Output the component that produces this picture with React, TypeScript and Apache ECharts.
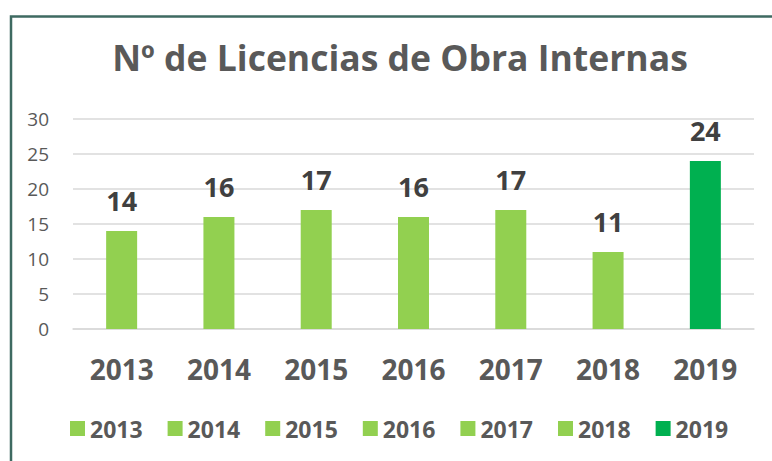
import React, { useEffect, useRef } from "react";
import * as echarts from "echarts";

const years = ["2013", "2014", "2015", "2016", "2017", "2018", "2019"];
const values = [14, 16, 17, 16, 17, 11, 24];
const colors = ["#92D050", "#92D050", "#92D050", "#92D050", "#92D050", "#92D050", "#00B050"];
const yTicks = { min: 0, max: 30, interval: 5 };
const title = "Nº de Licencias de Obra Internas";

const FONT = "'Open Sans', sans-serif";

export default function App() {
  const ref = useRef<HTMLDivElement>(null);
  useEffect(() => {
    if (!ref.current) return;
    const chart = echarts.init(ref.current, null, { renderer: "svg" });
    const series = years.map((y, i) => ({
      name: y,
      type: "bar",
      stack: "all",
      barWidth: 31,
      itemStyle: { color: colors[i] },
      data: years.map((_, j) => (j === i ? values[i] : null)),
      label: {
        show: true,
        position: "top",
        distance: 17,
        color: "#404040",
        fontFamily: FONT,
        fontWeight: "bold",
        fontSize: 27,
      },
    }));
    chart.setOption({
      animation: false,
      backgroundColor: "#FFFFFF",
      title: {
        text: title,
        left: 395,
        textAlign: "center",
        top: 34,
        textStyle: { color: "#595959", fontFamily: FONT, fontWeight: "bold", fontSize: 35.5 },
      },
      legend: {
        data: years,
        bottom: 16,
        left: 65,
        itemWidth: 15,
        itemHeight: 15,
        itemGap: 25,
        icon: "rect",
        textStyle: { color: "#595959", fontFamily: FONT, fontWeight: "bold", fontSize: 23 },
      },
      grid: { left: 73, right: 18, top: 119, bottom: 132 },
      xAxis: {
        type: "category",
        data: years,
        axisLine: { lineStyle: { color: "#D9D9D9", width: 1.5 } },
        axisTick: { show: false },
        axisLabel: { color: "#595959", fontFamily: FONT, fontWeight: "bold", fontSize: 28, margin: 26 },
      },
      yAxis: {
        type: "value",
        min: yTicks.min,
        max: yTicks.max,
        interval: yTicks.interval,
        axisLine: { show: false },
        axisTick: { show: false },
        splitLine: { lineStyle: { color: "#D9D9D9", width: 1.5 } },
        axisLabel: { color: "#595959", fontFamily: FONT, fontSize: 19, margin: 24 },
      },
      graphic: [
        {
          type: "rect",
          left: 8.5,
          top: 14,
          shape: { x: 0, y: 0, width: 900, height: 900 },
          style: { fill: "none", stroke: "#3E6A61", lineWidth: 2.5 },
          silent: true,
        },
      ],
      series,
    });
    return () => chart.dispose();
  }, []);
  return (
    <div
      ref={ref}
      style={{ position: "fixed", left: 0, top: 0, width: 772, height: 461 }}
    />
  );
}
